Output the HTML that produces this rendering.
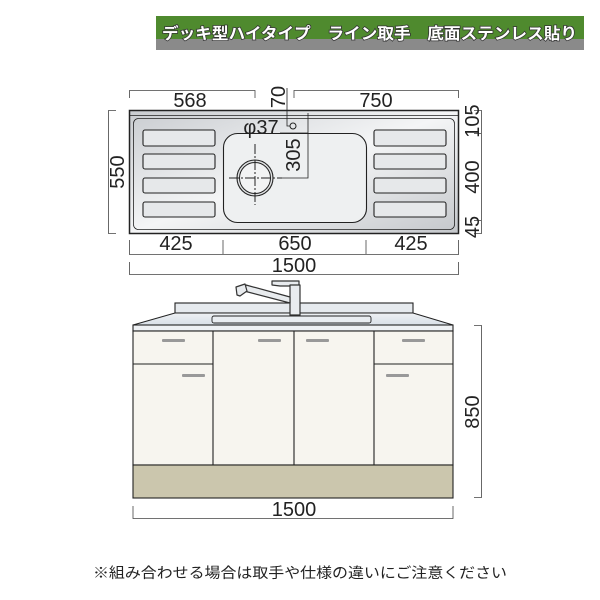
<!DOCTYPE html>
<html><head><meta charset="utf-8"><style>
html,body{margin:0;padding:0;background:#fff;width:600px;height:600px;overflow:hidden}
svg{display:block}
text{font-family:"Liberation Sans","Noto Sans CJK JP",sans-serif;fill:#222}
</style></head><body>
<svg width="600" height="600" viewBox="0 0 600 600" xmlns="http://www.w3.org/2000/svg">
<defs>
<linearGradient id="st" x1="0" y1="0" x2="1" y2="1">
<stop offset="0" stop-color="#c9ccd0"/><stop offset="0.5" stop-color="#f4f5f6"/><stop offset="1" stop-color="#c4c7cb"/></linearGradient>
<linearGradient id="ct" x1="0" y1="0" x2="0" y2="1"><stop offset="0" stop-color="#eef1f4"/><stop offset="1" stop-color="#d9e0e8"/></linearGradient>
</defs>
<rect x="156" y="16" width="428" height="23" fill="#4f8a2e"/>
<rect x="156" y="39" width="428" height="11" fill="#8a8a8a"/>
<text x="162" y="39" font-size="16" font-weight="bold" style="fill:#fff;paint-order:stroke;stroke:#333;stroke-width:1.5px" textLength="415" lengthAdjust="spacingAndGlyphs">デッキ型ハイタイプ　ライン取手　底面ステンレス貼り</text>

<g stroke="#222" fill="none">
<rect x="129.5" y="110.5" width="329" height="123" fill="url(#st)" stroke-width="1.5"/>
<line x1="130" y1="115.5" x2="458" y2="115.5" stroke-width="0.8"/>
<rect x="133.5" y="118.5" width="321" height="111" rx="5" stroke-width="0.8"/>
<g stroke-width="1.1" fill="#e6e8ea">
<rect x="143" y="130" width="72" height="16" rx="2"/><rect x="143" y="154" width="72" height="15" rx="2"/>
<rect x="143" y="178" width="72" height="15" rx="2"/><rect x="143" y="202" width="72" height="15" rx="2"/>
<rect x="374" y="130" width="72" height="16" rx="2"/><rect x="374" y="154" width="72" height="15" rx="2"/>
<rect x="374" y="178" width="72" height="15" rx="2"/><rect x="374" y="202" width="72" height="15" rx="2"/>
</g>
<rect x="223.5" y="133.5" width="143" height="89" rx="14" stroke-width="1.1" fill="#eef0f1"/>
<circle cx="255" cy="178" r="18" stroke-width="1.1" fill="#e0e2e4"/>
<circle cx="255" cy="178" r="15.5" stroke-width="1" fill="#f2f3f4"/>
<line x1="229" y1="178" x2="282" y2="178" stroke-width="1" stroke-dasharray="10,2,2,2"/>
<line x1="255" y1="144" x2="255" y2="205" stroke-width="1" stroke-dasharray="10,2,2,2"/>
<circle cx="293" cy="126" r="3" stroke-width="1"/>
<polyline points="287,88 287,126 290,126" stroke-width="0.8"/>
<polyline points="280,133 308,133" stroke-width="0.8"/>
<polyline points="308,113 308,178 282,178" stroke-width="0.8"/>
<g stroke="#444" stroke-width="0.8">
<polyline points="129.5,98 129.5,90.5 255,90.5 255,98"/>
<polyline points="294,98 294,90.5 458.5,90.5 458.5,98"/>
<polyline points="116,110.5 108.5,110.5 108.5,233.5 116,233.5"/>
<polyline points="474,110.5 481.5,110.5 481.5,233.5 474,233.5"/>
<line x1="474" y1="133.5" x2="481" y2="133.5"/><line x1="474" y1="220.5" x2="481" y2="220.5"/>
<polyline points="129.5,240 129.5,254.5 458.5,254.5 458.5,240"/>
<line x1="223" y1="240" x2="223" y2="254"/><line x1="366" y1="240" x2="366" y2="254"/>
<polyline points="129.5,262 129.5,274.5 458.5,274.5 458.5,262"/>
</g>
</g>
<g font-size="20">
<text x="190" y="107" text-anchor="middle">568</text>
<text x="376" y="107" text-anchor="middle">750</text>
<text x="176" y="250" text-anchor="middle">425</text>
<text x="295" y="250" text-anchor="middle">650</text>
<text x="411" y="250" text-anchor="middle">425</text>
<text x="294" y="272" text-anchor="middle">1500</text>
<text x="261" y="134" text-anchor="middle">φ37</text>
<text transform="translate(300,155) rotate(-90)" text-anchor="middle">305</text>
<text transform="translate(285,97) rotate(-90)" text-anchor="middle">70</text>
<text transform="translate(124,172) rotate(-90)" text-anchor="middle">550</text>
<text transform="translate(479,121) rotate(-90)" text-anchor="middle">105</text>
<text transform="translate(479,177) rotate(-90)" text-anchor="middle">400</text>
<text transform="translate(479,227) rotate(-90)" text-anchor="middle">45</text>
</g>

<g stroke="#222" stroke-width="1.1">
<rect x="175" y="303" width="238" height="10" fill="#e6eaee"/>
<polygon points="175,313 413,313 453,325 133,325" fill="url(#ct)"/>
<rect x="133" y="325" width="320" height="6" fill="#eef1f4"/>
<rect x="212" y="316" width="159" height="7" rx="2" fill="#e9edf1" stroke-width="0.9"/>
<rect x="133" y="331" width="320" height="134" fill="#f7f5ef"/>
<rect x="133" y="465" width="320" height="33" fill="#cbc6ad"/>
<line x1="213" y1="331" x2="213" y2="465"/><line x1="294" y1="331" x2="294" y2="465"/><line x1="374" y1="331" x2="374" y2="465"/>
<line x1="133" y1="364" x2="213" y2="364"/><line x1="374" y1="364" x2="453" y2="364"/>
</g>
<!-- faucet -->
<g stroke="#333" stroke-width="1.2" fill="#e8ebee" stroke-linejoin="round">
<polygon points="272,281 299,281 299,286 280,286 272,285"/>
<rect x="290" y="285" width="10" height="30"/>
<polygon points="290,297 290,303 244,291 246,285"/>
<polygon points="236,287 245,284 247,291 240,296 237,295"/>
</g>
<g fill="#999">
<rect x="162" y="339" width="23" height="3" rx="1"/><rect x="258" y="339" width="23" height="3" rx="1"/>
<rect x="306" y="339" width="23" height="3" rx="1"/><rect x="402" y="339" width="23" height="3" rx="1"/>
<rect x="182" y="374" width="23" height="3" rx="1"/><rect x="386" y="374" width="23" height="3" rx="1"/>
</g>
<g stroke="#444" stroke-width="0.8" fill="none">
<polyline points="474,325.5 481.5,325.5 481.5,497.5 474,497.5"/>
<polyline points="133,506 133,518.5 453,518.5 453,506"/>
</g>
<text transform="translate(479,412) rotate(-90)" text-anchor="middle" font-size="20">850</text>
<text x="294" y="516" text-anchor="middle" font-size="20">1500</text>
<text x="93" y="578" font-size="14.5" textLength="414" lengthAdjust="spacingAndGlyphs">※組み合わせる場合は取手や仕様の違いにご注意ください</text>
</svg>
</body></html>
